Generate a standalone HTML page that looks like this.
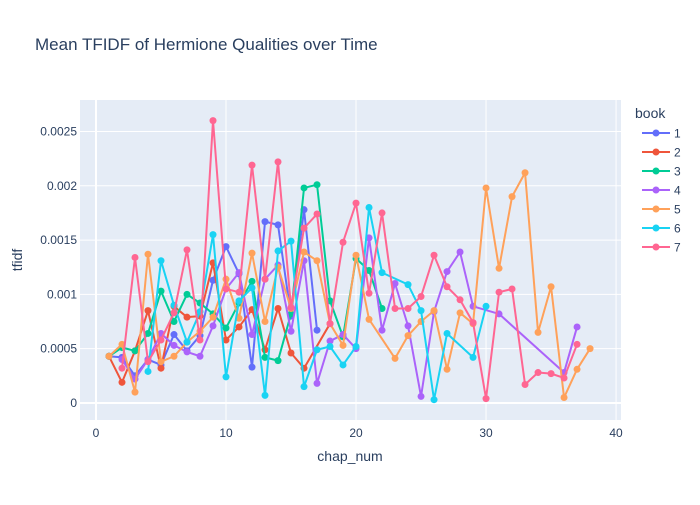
<!DOCTYPE html>
<html><head><meta charset="utf-8"><style>
body{margin:0;background:#fff;font-family:"Liberation Sans",sans-serif}
svg text{font-family:"Liberation Sans",sans-serif;fill:#2a3f5f}
</style></head><body>
<svg id="chart" width="700" height="500" xmlns="http://www.w3.org/2000/svg">
<rect x="0" y="0" width="700" height="500" fill="#fff"/>
<text x="35" y="50" font-size="17">Mean TFIDF of Hermione Qualities over Time</text>
<rect id="plotbg" x="80" y="100" width="541" height="320" fill="#e5ecf6"/>
<g id="grid"></g>
<g id="series"></g>
<g id="axes"></g>
<text x="350" y="461" font-size="14" text-anchor="middle">chap_num</text>
<text x="0" y="0" font-size="14" text-anchor="middle" transform="translate(22,260) rotate(-90)">tfidf</text>
<g id="legend"><text x="635" y="118" font-size="14">book</text></g>
</svg>
<script>
const xTicks=[0,10,20,30,40];
const yTicks=[0,0.0005,0.001,0.0015,0.002,0.0025];
const yTickLabels=["0","0.0005","0.001","0.0015","0.002","0.0025"];
const bookNames=["1","2","3","4","5","6","7"];
const colors=["#636efa","#EF553B","#00cc96","#ab63fa","#FFA15A","#19d3f3","#FF6692"];
const b1x=[1,2,3,4,5,6,7,8,9,10,11,12,13,14,15,16,17];
const b1y=[0.43,0.42,0.25,0.40,0.35,0.63,0.48,0.62,1.13,1.44,1.19,0.33,1.67,1.64,0.80,1.78,0.67];
const b2x=[1,2,3,4,5,6,7,8,9,10,11,12,13,14,15,16,18];
const b2y=[0.43,0.19,0.48,0.85,0.32,0.89,0.79,0.80,1.29,0.58,0.70,0.86,0.49,0.87,0.46,0.32,0.73];
const b3x=[1,2,3,4,5,6,7,8,9,10,11,12,13,14,15,16,17,18,19,20,21,22];
const b3y=[0.43,0.51,0.48,0.64,1.03,0.75,1.00,0.92,0.82,0.69,0.92,1.12,0.42,0.39,0.82,1.98,2.01,0.94,0.61,1.33,1.22,0.87];
const b4x=[2,3,4,5,6,7,8,9,10,11,12,13,14,15,16,17,18,19,20,21,22,23,24,25,26,27,28,29,31,36,37];
const b4y=[0.40,0.22,0.40,0.64,0.53,0.47,0.43,0.71,1.05,1.20,0.63,1.14,1.27,0.66,1.31,0.18,0.57,0.63,0.50,1.52,0.67,1.10,0.71,0.06,0.84,1.21,1.39,0.89,0.82,0.28,0.70];
const b5x=[1,2,3,4,5,6,7,8,9,10,11,12,13,14,15,16,17,18,19,20,21,23,24,25,26,27,28,29,30,31,32,33,34,35,36,37,38];
const b5y=[0.43,0.54,0.10,1.37,0.38,0.43,0.56,0.66,0.79,1.14,0.78,1.38,0.75,1.25,0.87,1.39,1.31,0.73,0.53,1.36,0.77,0.41,0.62,0.75,0.85,0.31,0.83,0.73,1.98,1.24,1.90,2.12,0.65,1.07,0.05,0.31,0.50];
const b6x=[4,5,6,7,8,9,10,11,12,13,14,15,16,17,18,19,20,21,22,24,25,26,27,29,30];
const b6y=[0.29,1.31,0.90,0.56,0.84,1.55,0.24,0.94,1.06,0.07,1.40,1.49,0.15,0.49,0.52,0.35,0.52,1.80,1.20,1.09,0.85,0.03,0.64,0.42,0.89];
const b7x=[2,3,4,5,6,7,8,9,10,11,12,13,14,15,16,17,18,19,20,21,22,23,24,25,26,27,28,29,30,31,32,33,34,35,36,37];
const b7y=[0.32,1.34,0.38,0.58,0.83,1.41,0.58,2.60,1.05,1.02,2.19,1.14,2.22,0.88,1.61,1.74,0.73,1.48,1.84,1.01,1.75,0.87,0.87,0.98,1.36,1.07,0.95,0.74,0.04,1.02,1.05,0.17,0.28,0.27,0.23,0.54];
const seriesX=[b1x,b2x,b3x,b4x,b5x,b6x,b7x];
const seriesY=[b1y,b2y,b3y,b4y,b5y,b6y,b7y];
const NS="http://www.w3.org/2000/svg";
const X0=80,X1=621,Y0=100,Y1=420,xmin=-1.23,xmax=40.38,ymin=-0.000157,ymax=0.00279;
function sx(v){return X0+(v-xmin)/(xmax-xmin)*(X1-X0);}
function sy(v){return Y1-(v-ymin)/(ymax-ymin)*(Y1-Y0);}
function mk(t,a,p){const e=document.createElementNS(NS,t);for(const k in a)e.setAttribute(k,a[k]);p.appendChild(e);return e;}
const grid=document.getElementById('grid'),axes=document.getElementById('axes');
xTicks.forEach((t,i)=>{
  const l=mk('line',{x1:sx(t),x2:sx(t),y1:Y0,y2:Y1,stroke:'#fff','stroke-width':t===0?2:1},grid);
  
  
  const tx=mk('text',{x:sx(t),y:437,'font-size':12,'text-anchor':'middle'},axes);
  tx.textContent=String(t);
  
  
});
yTicks.forEach((t,i)=>{
  const l=mk('line',{x1:X0,x2:X1,y1:sy(t),y2:sy(t),stroke:'#fff','stroke-width':t===0?2:1},grid);
  
  
  const tx=mk('text',{x:77,y:sy(t)+4,'font-size':12,'text-anchor':'end'},axes);
  tx.textContent=yTickLabels[i];
  
  
});
const sg=document.getElementById('series'),lg=document.getElementById('legend');
seriesX.forEach((xs,i)=>{
  const g=mk('g',{},sg);
  
  
  const pts=xs.map((x,j)=>sx(x)+','+sy(seriesY[i][j]*0.001)).join(' ');
  const pl=mk('polyline',{points:pts,fill:'none',stroke:colors[i],'stroke-width':2,'stroke-linejoin':'round'},g);
  
  
  xs.forEach((x,j)=>{
    const c=mk('circle',{cx:sx(x),cy:sy(seriesY[i][j]*0.001),r:3.5,fill:colors[i]},g);
    
    
  });
  const ly=133+i*19;
  const le=mk('g',{},lg);
  
  
  mk('line',{x1:642,x2:670,y1:ly,y2:ly,stroke:colors[i],'stroke-width':2},le);
  mk('circle',{cx:656,cy:ly,r:3.5,fill:colors[i]},le);
  const t=mk('text',{x:674,y:ly+4.5,'font-size':12},le);
  t.textContent=bookNames[i];
});
</script>
</body></html>
